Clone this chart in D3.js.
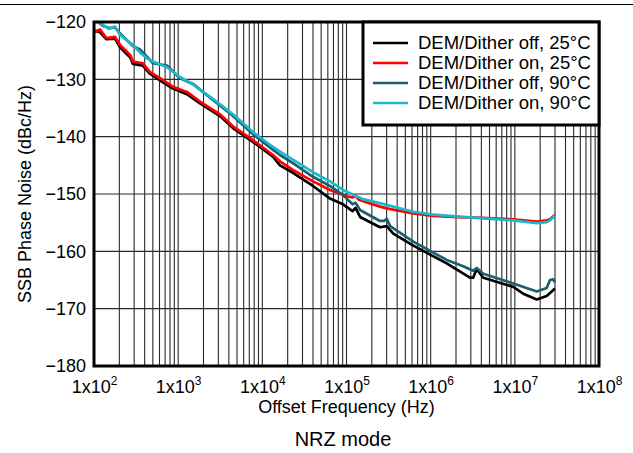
<!DOCTYPE html>
<html>
<head>
<meta charset="utf-8">
<script src="https://cdn.jsdelivr.net/npm/d3@7"></script>
<style>
    body { margin: 0; background: #fff; }
    text { font-family: "Liberation Sans", Arial, sans-serif; }
</style>
</head>
<body>
<div id="chart"></div>
<script>
// series: [offset frequency (Hz), SSB phase noise (dBc/Hz)]
const offOn25 = [[100,-121.5],[118,-121.8],[140,-123.0],[178,-122.9],[204,-124.4],[270,-126.2],[290,-127.3],[380,-127.6],[460,-129.0],[610,-130.2],[870,-131.6],[1270,-132.6],[1820,-134.2],[3140,-136.4],[4480,-138.5],[7740,-140.9],[13400,-143.5],[16200,-145.0],[23100,-146.3],[40000,-148.6],[63700,-150.8],[90800,-151.8],[118000,-153.0],[128000,-152.4],[145000,-154.0],[250000,-155.8],[300000,-155.6],[360000,-156.9],[622000,-159.0],[1.55e6,-162.1],[2.93e6,-164.6],[3.2e6,-164.6],[3.52e6,-163.1],[4.22e6,-164.6],[9.59e6,-166.2],[1.26e7,-167.4],[1.82e7,-168.4],[2.39e7,-167.8],[3.0e7,-166.5]];
const onAt25 = [[100,-121.8],[118,-121.3],[140,-122.8],[178,-122.6],[204,-124.0],[270,-125.8],[290,-126.9],[380,-127.2],[460,-128.7],[610,-129.8],[870,-131.3],[1270,-132.2],[1820,-133.9],[3140,-136.1],[4480,-138.2],[7740,-140.6],[13400,-143.2],[16200,-144.3],[23100,-145.8],[40000,-147.8],[63700,-149.3],[100000,-150.4],[118000,-150.6],[128000,-150.3],[140000,-151.0],[250000,-152.2],[300000,-152.5],[622000,-153.4],[1.07e6,-153.8],[2.44e6,-154.1],[3.52e6,-154.1],[9.59e6,-154.4],[1.82e7,-154.8],[2.39e7,-154.6],[2.62e7,-154.4],[3.0e7,-153.6]];
const offAt90 = [[100,-119.4],[128,-120.7],[150,-121.0],[178,-121.0],[204,-122.0],[290,-124.2],[352,-124.8],[423,-126.0],[502,-127.2],[736,-127.6],[1050,-129.8],[1500,-130.8],[2590,-133.6],[4480,-136.4],[7740,-139.6],[13400,-142.3],[16200,-143.2],[23100,-144.6],[40000,-147.0],[63700,-148.6],[90800,-150.2],[118000,-151.8],[128000,-151.5],[145000,-152.8],[250000,-154.7],[280000,-154.7],[300000,-154.3],[330000,-155.6],[622000,-158.3],[1.55e6,-161.5],[2.44e6,-162.6],[3.2e6,-163.4],[3.52e6,-162.9],[4.22e6,-163.9],[9.59e6,-165.6],[1.82e7,-167.0],[2.39e7,-166.4],[2.62e7,-165.0],[2.86e7,-164.9],[3.0e7,-165.4]];
const onAt90 = [[100,-119.6],[128,-120.5],[150,-121.2],[178,-120.8],[204,-122.3],[290,-124.0],[352,-125.3],[423,-126.3],[502,-126.9],[736,-127.9],[1050,-129.6],[1500,-130.9],[2590,-133.4],[4480,-136.1],[7740,-139.2],[13400,-141.8],[16200,-142.6],[23100,-144.0],[40000,-146.2],[63700,-147.8],[90800,-149.3],[157000,-150.9],[300000,-151.9],[622000,-153.1],[1.07e6,-153.6],[3.86e6,-154.2],[9.59e6,-154.6],[1.82e7,-155.1],[2.39e7,-154.9],[2.62e7,-154.6],[3.0e7,-153.7]];

const seriesNames = ["DEM/Dither off, 25°C", "DEM/Dither on, 25°C", "DEM/Dither off, 90°C", "DEM/Dither on, 90°C"];
const yTicks = [-180, -170, -160, -150, -140, -130, -120];
const xExponents = [2, 3, 4, 5, 6, 7, 8];

const colors = ["#000000", "#ff0000", "#1b5f6f", "#1ab8cc"];
const allSeries = [offOn25, onAt25, offAt90, onAt90];

const W = 633, H = 453;
const margin = { left: 94, top: 22, right: 34, bottom: 87 };
const width = W - margin.left - margin.right;
const height = H - margin.top - margin.bottom;

const svg = d3.select("#chart").append("svg")
    .attr("width", W)
    .attr("height", H);

svg.append("line")
    .attr("x1", 0).attr("x2", W)
    .attr("y1", 4.5).attr("y2", 4.5)
    .attr("stroke", "#000").attr("stroke-width", 1);

const x = d3.scaleLog().domain([1e2, 1e8]).range([0, width]);
const y = d3.scaleLinear().domain([-180, -120]).range([height, 0]);

const g = svg.append("g")
    .attr("transform", `translate(${margin.left},${margin.top})`);

svg.append("defs").append("clipPath").attr("id", "clip")
    .append("rect").attr("width", width).attr("height", height);

// grid
const minorTicks = [];
for (let e = 2; e < 8; e++) {
    for (let m = 1; m < 10; m++) minorTicks.push(m * Math.pow(10, e));
}
g.append("g").selectAll("line.vg")
    .data(minorTicks)
    .enter().append("line")
    .attr("x1", d => x(d)).attr("x2", d => x(d))
    .attr("y1", 0).attr("y2", height)
    .attr("stroke", "#2a2a2a").attr("stroke-width", 1.1);

g.append("g").selectAll("line.hg")
    .data(yTicks)
    .enter().append("line")
    .attr("x1", 0).attr("x2", width)
    .attr("y1", d => y(d)).attr("y2", d => y(d))
    .attr("stroke", "#2a2a2a").attr("stroke-width", 1.1);

// curves
const line = d3.line()
    .x(d => x(d[0]))
    .y(d => y(d[1]));

const plot = g.append("g").attr("clip-path", "url(#clip)");
allSeries.forEach((s, i) => {
    plot.append("path")
        .datum(s)
        .attr("d", line)
        .attr("fill", "none")
        .attr("stroke", colors[i])
        .attr("stroke-width", 2.7)
        .attr("stroke-linejoin", "round");
});

// frame
g.append("rect")
    .attr("width", width).attr("height", height)
    .attr("fill", "none")
    .attr("stroke", "#000").attr("stroke-width", 3);

// y axis labels
const yAxis = g.append("g")
    .call(d3.axisLeft(y).tickValues(yTicks).tickSize(0).tickPadding(8));
yAxis.select(".domain").remove();
yAxis.selectAll("text")
    .attr("font-size", 18)
    .attr("fill", "#000")
    .style("font-family", "'Liberation Sans', Arial, sans-serif");

// x axis labels with superscript exponent
const xAxis = g.append("g")
    .attr("transform", `translate(0,${height})`)
    .call(d3.axisBottom(x).tickValues(xExponents.map(e => Math.pow(10, e))).tickSize(0).tickFormat(""));
xAxis.select(".domain").remove();
xAxis.selectAll(".tick").each(function (d) {
    const e = Math.round(Math.log10(d));
    const t = d3.select(this).append("text")
        .attr("y", 27)
        .attr("text-anchor", "middle")
        .attr("fill", "#000")
        .attr("font-size", 18);
    t.append("tspan").text("1x10");
    t.append("tspan").attr("dy", -8).attr("font-size", 12).text(e);
});

// axis titles
svg.append("text")
    .attr("x", margin.left + width / 2)
    .attr("y", 413)
    .attr("text-anchor", "middle")
    .attr("font-size", 18)
    .text("Offset Frequency (Hz)");

svg.append("text")
    .attr("transform", `translate(31,${margin.top + height / 2}) rotate(-90)`)
    .attr("text-anchor", "middle")
    .attr("font-size", 18)
    .text("SSB Phase Noise (dBc/Hz)");

svg.append("text")
    .attr("x", 343)
    .attr("y", 446)
    .attr("text-anchor", "middle")
    .attr("font-size", 20)
    .text("NRZ mode");

// legend
const legend = g.append("g").attr("transform", `translate(${width - 236},0)`);
legend.append("rect")
    .attr("width", 236).attr("height", 103)
    .attr("fill", "#fff")
    .attr("stroke", "#000").attr("stroke-width", 3);
seriesNames.forEach((name, i) => {
    const row = legend.append("g").attr("transform", `translate(0,${21 + i * 20})`);
    row.append("line")
        .attr("x1", 10).attr("x2", 45)
        .attr("stroke", colors[i]).attr("stroke-width", 2.7);
    row.append("text")
        .attr("x", 55).attr("dy", "0.35em")
        .attr("font-size", 18.5)
        .text(name);
});
</script>
</body>
</html>
